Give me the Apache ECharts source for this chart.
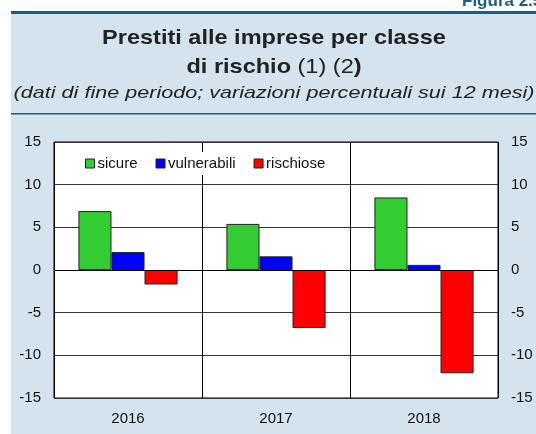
<!DOCTYPE html>
<html lang="it">
<head>
    <meta charset="UTF-8">
    <title>Prestiti alle imprese per classe di rischio</title>
    <script src="https://cdn.jsdelivr.net/npm/echarts@6/dist/echarts.min.js"></script>
    <style>
        * {
            padding: 0;
            margin: 0;
        }

        body {
            background: #fff;
        }

        #chart {
            width: 536px;
            height: 434px;
        }
    </style>
</head>
<body>
    <div id="chart"></div>
    <script>
        // dati
        var anni = ['2016', '2017', '2018'];
        var sicure = [6.9, 5.4, 8.5];
        var vulnerabili = [2.1, 1.6, 0.6];
        var rischiose = [-1.7, -6.8, -12.1];
        var nomiSerie = ['sicure', 'vulnerabili', 'rischiose'];
        var coloriSerie = ['#33cc33', '#0000ff', '#ff0000'];

        var font = 'Liberation Sans, Arial, sans-serif';
        var blu = '#1b5e87';
        var centro = 274;

        var chart = echarts.init(document.getElementById('chart'));

        function serie(nome, dati, colore) {
            return {
                name: nome,
                type: 'bar',
                data: dati,
                barGap: '0%',
                barCategoryGap: '33%',
                itemStyle: { color: colore, borderColor: '#222', borderWidth: 1 },
                emphasis: { disabled: true }
            };
        }

        // asse y (uguale a sinistra e a destra)
        function assey(pos) {
            return {
                type: 'value',
                position: pos,
                min: -15,
                max: 15,
                interval: 5,
                axisLine: { show: false },
                axisTick: { show: false },
                axisLabel: { color: '#111', fontFamily: font, fontSize: 15, margin: 13 },
                splitLine: { show: pos === 'left', lineStyle: { color: '#333', width: 1 } }
            };
        }

        chart.setOption({
            animation: false,
            graphic: [
                { type: 'rect', z: -10, shape: { x: 11, y: 12, width: 525, height: 422 }, style: { fill: '#d4e3ed' } },
                { type: 'rect', z: -9, shape: { x: 11, y: 11, width: 525, height: 3 }, style: { fill: blu } },
                { type: 'rect', z: -9, shape: { x: 11, y: 113, width: 525, height: 1.5 }, style: { fill: blu } },
                {
                    type: 'text', x: 462, y: 1,
                    style: { text: 'Figura 2.5', font: 'bold 17px ' + font, fill: blu, verticalAlign: 'middle' }
                },
                {
                    type: 'text', x: centro, y: 38, scaleX: 1.12,
                    style: {
                        text: 'Prestiti alle imprese per classe',
                        font: 'bold 21px ' + font, fill: '#222',
                        align: 'center', verticalAlign: 'middle'
                    }
                },
                {
                    type: 'text', x: centro, y: 67, scaleX: 1.12,
                    style: {
                        text: '{b|di rischio} {n|(1) (2}{b|)}',
                        align: 'center', verticalAlign: 'middle',
                        font: '21px ' + font, fill: '#222',
                        rich: {
                            b: { font: 'bold 21px ' + font, fill: '#222' },
                            n: { font: '21px ' + font, fill: '#222' }
                        }
                    }
                },
                {
                    type: 'text', x: centro, y: 93, scaleX: 1.27,
                    style: {
                        text: '(dati di fine periodo; variazioni percentuali sui 12 mesi)',
                        font: 'italic 17px ' + font, fill: '#222',
                        align: 'center', verticalAlign: 'middle'
                    }
                }
            ],
            grid: {
                left: 54, right: 38, top: 142, bottom: 36,
                show: true, backgroundColor: '#fff', borderColor: '#000', borderWidth: 1
            },
            legend: {
                data: nomiSerie,
                left: 79, top: 152,
                backgroundColor: '#fff',
                padding: [4, 6, 4, 6],
                itemGap: 18,
                itemWidth: 9, itemHeight: 9,
                icon: 'rect',
                itemStyle: { borderColor: '#222', borderWidth: 1 },
                textStyle: { color: '#111', fontFamily: font, fontSize: 15, padding: [0, 0, 0, -2] }
            },
            xAxis: {
                type: 'category',
                data: anni,
                axisLine: { show: false },
                axisTick: { show: false },
                axisLabel: { color: '#111', fontFamily: font, fontSize: 15, margin: 13 },
                splitLine: { show: true, interval: 0, lineStyle: { color: '#000', width: 1 } }
            },
            yAxis: [assey('left'), assey('right')],
            series: [
                serie(nomiSerie[0], sicure, coloriSerie[0]),
                serie(nomiSerie[1], vulnerabili, coloriSerie[1]),
                serie(nomiSerie[2], rischiose, coloriSerie[2]),
                {
                    // linea dello zero
                    type: 'line', data: [], silent: true,
                    markLine: {
                        symbol: 'none', silent: true, label: { show: false },
                        lineStyle: { color: '#000', width: 1, type: 'solid' },
                        data: [{ yAxis: 0 }]
                    }
                }
            ]
        });
    </script>
</body>
</html>
